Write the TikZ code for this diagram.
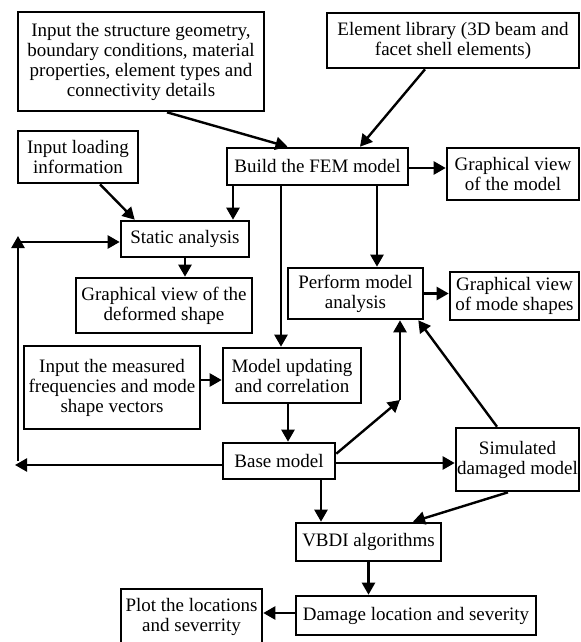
\documentclass[tikz,border=0pt]{standalone}
\usepackage{fontspec}
\setmainfont{Liberation Serif}
\usetikzlibrary{arrows.meta,calc}
\begin{document}
\begin{tikzpicture}[x=0.5pt, y=-0.5pt,
  box/.style={draw, line width=1.3pt, align=center, inner sep=0pt, font=\fontsize{9.5}{10}\selectfont},
  arr/.style={line width=1.2pt, -{Triangle[length=6pt,width=6.5pt]}}]
  \useasboundingbox (0,0) rectangle (581,642);
  % boxes
  \node[box, minimum width=123pt, minimum height=49.5pt] (geom) at (141,61.5) {Input the structure geometry,\\boundary conditions, material\\properties, element types and\\connectivity details};
  \node[box, minimum width=126pt, minimum height=27.5pt] (lib) at (453,40.5) {Element library (3D beam and\\facet shell elements)};
  \node[box, minimum width=60pt, minimum height=26pt] (load) at (78,157) {Input loading\\information};
  \node[box, minimum width=90.5pt, minimum height=18.5pt] (fem) at (317.5,166.5) {Build the FEM model};
  \node[box, minimum width=66pt, minimum height=26pt] (gvmodel) at (513,174) {Graphical view\\of the model};
  \node[box, minimum width=64pt, minimum height=18pt] (static) at (185,239) {Static analysis};
  \node[box, minimum width=88pt, minimum height=27.5pt] (gvdef) at (164,305.5) {Graphical view of the\\deformed shape};
  \node[box, minimum width=67.5pt, minimum height=25.5pt] (perform) at (355.5,293.5) {Perform model\\analysis};
  \node[box, minimum width=64.5pt, minimum height=24pt] (gvmode) at (514.5,296) {Graphical view\\of mode shapes};
  \node[box, minimum width=88pt, minimum height=41.5pt] (measured) at (112,387.5) {Input the measured\\frequencies and mode\\shape vectors};
  \node[box, minimum width=69pt, minimum height=27.5pt] (update) at (292,375.5) {Model updating\\and correlation};
  \node[box, minimum width=56pt, minimum height=18pt] (base) at (279,461) {Base model};
  \node[box, minimum width=61.5pt, minimum height=31.5pt] (sim) at (517.5,459.5) {Simulated\\damaged model};
  \node[box, minimum width=72.5pt, minimum height=19pt] (vbdi) at (368.5,542) {VBDI algorithms};
  \node[box, minimum width=120pt, minimum height=19.5pt] (damage) at (416,615.5) {Damage location and severity};
  \node[box, minimum width=70.5pt, minimum height=28pt] (plot) at (191.5,617) {Plot the locations\\and severrity};
  % loop points
  \coordinate (lb) at (15,465);
  \coordinate (lv) at (18,461);
  \coordinate (lt) at (18,236);
  \coordinate (lh) at (18,242);
  \coordinate (bk) at (400,400);
  % arrows
  \draw[arr] ($(geom.south)+(26,0)$) -- ($(fem.north)+(-30,0)$);
  \draw[arr] ($(lib.south)+(-28,0)$) -- ($(fem.north)+(42.5,0)$);
  \draw[arr] ($(load.south)+(22,0)$) -- ($(static.north west)+(15,0)$);
  \draw[arr] ($(fem.south)+(-84.5,0)$) -- ($(static.north)+(48,0)$);
  \draw[arr] ($(fem.east)+(0,1.5)$) -- ($(gvmodel.west)+(0,-6)$);
  \draw[arr] ($(fem.south)+(59.5,0)$) -- ($(perform.north)+(21.5,0)$);
  \draw[arr] ($(fem.south)+(-36.5,0)$) -- ($(update.north)+(-11,0)$);
  \draw[arr] (static.south) -- (static.south |- gvdef.north);
  \draw[arr] (perform.east) -- (perform.east -| gvmode.west);
  \draw[arr] ($(base.west)+(0,4)$) -- (lb);
  \draw[arr] (lv) -- (lt);
  \draw[arr] (lh) -- (lh -| static.west);
  \draw[arr] ($(measured.east)+(0,-7.5)$) -- ($(update.west)+(0,4.5)$);
  \draw[arr] ($(update.south)+(-4,0)$) -- ($(base.north)+(9,0)$);
  \draw[arr] ($(base.north east)+(0,12)$) -- (bk);
  \draw[arr] (bk) -- (bk |- perform.south);
  \draw[arr] ($(sim.north)+(-20.5,0)$) -- ($(perform.south east)+(-6,0)$);
  \draw[arr] ($(base.east)+(0,2)$) -- ($(sim.west)+(0,3.5)$);
  \draw[arr] ($(base.south)+(42,0)$) -- ($(vbdi.north)+(-47.5,0)$);
  \draw[arr] ($(sim.south)+(-9.5,0)$) -- ($(vbdi.north)+(44.5,0)$);
  \draw[arr] (vbdi.south) -- (vbdi.south |- damage.north);
  \draw[arr] ($(damage.west)+(0,-2.5)$) -- ($(plot.east)+(0,-4)$);
\end{tikzpicture}
\end{document}
